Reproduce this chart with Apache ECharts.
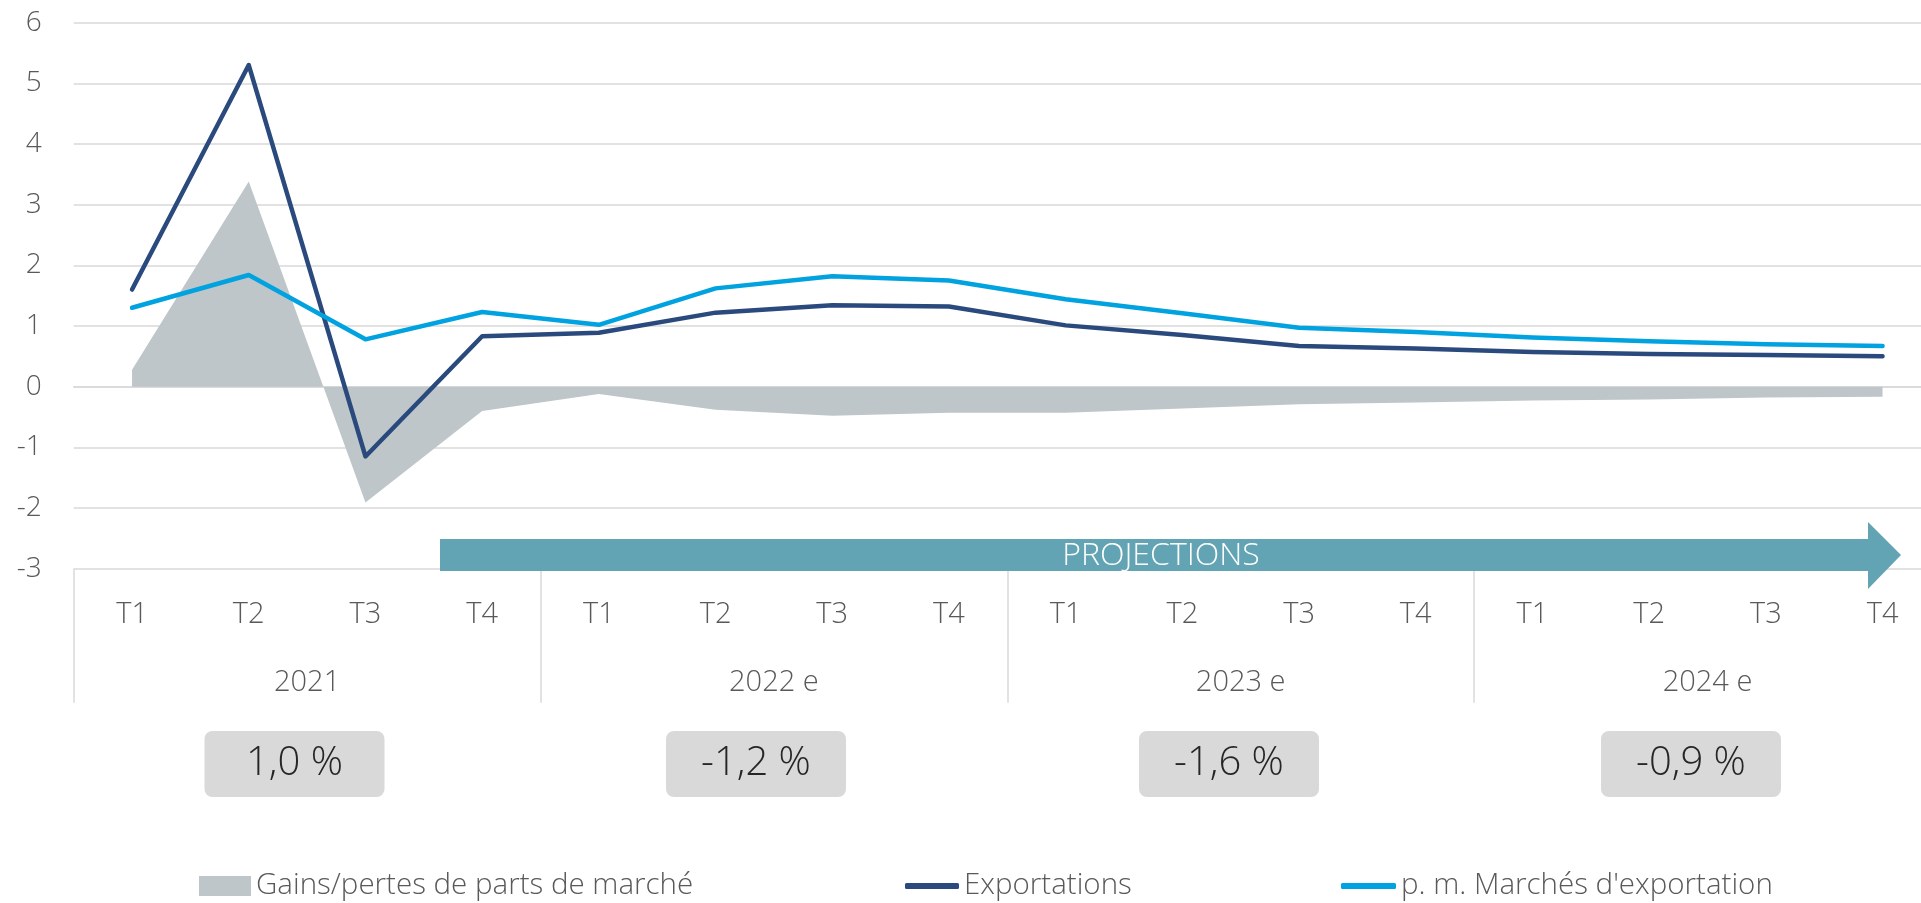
<!DOCTYPE html>
<html>
<head>
<meta charset="utf-8">
<script src="https://cdn.jsdelivr.net/npm/echarts@6/dist/echarts.min.js"></script>
<style>
html,body{margin:0;padding:0;background:#ffffff;}
#chart{width:1921px;height:903px;}
</style>
</head>
<body>
<div id="chart"></div>
<script>
// ---------- data ----------
const years = ['2021', '2022 e', '2023 e', '2024 e'];
const quarterLabels = ['T1', 'T2', 'T3', 'T4'];
const yTicks = { min: -3, max: 6, interval: 1 };

const seriesNames = ['Gains/pertes de parts de marché', 'Exportations', "p. m. Marchés d'exportation"];

const gainsPertes = [0.28, 3.38, -1.91, -0.40, -0.12, -0.38, -0.48, -0.43, -0.43, -0.36, -0.29, -0.26, -0.23, -0.21, -0.18, -0.165];
const exportations = [1.60, 5.30, -1.15, 0.83, 0.89, 1.22, 1.34, 1.32, 1.01, 0.85, 0.67, 0.63, 0.57, 0.54, 0.52, 0.50];
const marchesExport = [1.30, 1.84, 0.78, 1.23, 1.02, 1.62, 1.82, 1.75, 1.44, 1.21, 0.97, 0.90, 0.81, 0.75, 0.70, 0.67];

const annualLabels = ['1,0 %', '-1,2 %', '-1,6 %', '-0,9 %'];
const projectionLabel = 'PROJECTIONS';

// category keys built from the labels
const categories = [];
years.forEach(y => quarterLabels.forEach(q => categories.push(y + '|' + q)));

// ---------- style ----------
const FONT = "'Open Sans', 'Noto Sans', sans-serif";
const TXT = '#595959';
const GRIDC = '#d9d9d9';
const C_AREA = '#bec6c9';
const C_EXP = '#2a4a7e';
const C_MKT = '#00a2df';
const C_ARROW = '#62a4b4';

const gridLeft = 73.7, gridTop = 22.6, gridH = 546.1, catW = 116.7;
const gridW = catW * categories.length;

const chart = echarts.init(document.getElementById('chart'), null, { renderer: 'canvas' });

function legendFor(name, left, icon, w, h) {
  return {
    show: true,
    data: [{ name: name, icon: icon }],
    left: left, top: 870,
    padding: 0,
    itemWidth: w, itemHeight: h,
    itemGap: 0,
    selectedMode: false,
    textStyle: { fontFamily: FONT, fontWeight: 300, fontSize: 29.5, color: TXT, lineHeight: 32, padding: [0, 0, 0, 0] }
  };
}

const option = {
  backgroundColor: '#ffffff',
  animation: false,
  textStyle: { fontFamily: FONT },
  grid: { left: gridLeft, top: gridTop, width: gridW, height: gridH, containLabel: false, outerBoundsMode: 'none' },
  xAxis: [
    {
      type: 'category',
      data: categories,
      boundaryGap: true,
      axisLine: { show: true, lineStyle: { color: GRIDC, width: 1.5 } },
      axisTick: { show: false },
      splitLine: { show: false },
      axisLabel: {
        interval: 0, margin: 46, verticalAlign: 'middle',
        fontFamily: FONT, fontWeight: 300, fontSize: 29, color: TXT,
        formatter: v => v.split('|')[1]
      }
    },
    {
      type: 'category',
      data: years,
      position: 'bottom',
      boundaryGap: true,
      axisLine: { show: false },
      axisTick: { show: true, interval: 0, length: 134, lineStyle: { color: GRIDC, width: 1.5 } },
      splitLine: { show: false },
      axisLabel: {
        interval: 0, margin: 114, verticalAlign: 'middle',
        fontFamily: FONT, fontWeight: 300, fontSize: 29, color: TXT
      }
    }
  ],
  yAxis: {
    type: 'value',
    min: yTicks.min, max: yTicks.max, interval: yTicks.interval,
    axisLine: { show: false },
    axisTick: { show: false },
    splitLine: { show: true, lineStyle: { color: GRIDC, width: 1.5 } },
    axisLabel: { margin: 32, fontFamily: FONT, fontWeight: 300, fontSize: 28, color: TXT }
  },
  legend: [
    legendFor(seriesNames[0], 199, 'rect', 52, 20),
    legendFor(seriesNames[1], 905, 'roundRect', 54, 6),
    legendFor(seriesNames[2], 1341, 'roundRect', 55, 6)
  ],
  series: [
    {
      name: seriesNames[0],
      type: 'line',
      xAxisIndex: 0,
      data: gainsPertes,
      color: C_AREA,
      itemStyle: { color: C_AREA },
      showSymbol: false,
      symbol: 'none',
      lineStyle: { width: 0, color: C_AREA },
      areaStyle: { color: C_AREA, opacity: 1, origin: 0 },
      z: 1
    },
    {
      name: seriesNames[1],
      type: 'line',
      xAxisIndex: 0,
      data: exportations,
      color: C_EXP,
      itemStyle: { color: C_EXP },
      showSymbol: false,
      symbol: 'none',
      lineStyle: { width: 4.5, color: C_EXP, cap: 'round', join: 'round' },
      z: 3
    },
    {
      name: seriesNames[2],
      type: 'line',
      xAxisIndex: 0,
      data: marchesExport,
      color: C_MKT,
      itemStyle: { color: C_MKT },
      showSymbol: false,
      symbol: 'none',
      lineStyle: { width: 4.5, color: C_MKT, cap: 'round', join: 'round' },
      z: 4
    }
  ]
};

chart.setOption(option);

// ---------- annotations (projection arrow and annual boxes) ----------
const graphics = [];
const arrowY0 = 539, arrowY1 = 571, arrowX0 = 440, arrowHeadX = 1868, arrowTip = 1901;
const midY = (arrowY0 + arrowY1) / 2;
graphics.push({
  type: 'polygon', z: 100,
  shape: { points: [[arrowX0, arrowY0], [arrowHeadX, arrowY0], [arrowHeadX, 522], [arrowTip, midY], [arrowHeadX, 589], [arrowHeadX, arrowY1], [arrowX0, arrowY1]] },
  style: { fill: C_ARROW }
});
graphics.push({
  type: 'text', z: 101,
  x: 1161, y: midY + 1,
  style: { text: projectionLabel, fill: '#ffffff', font: "300 32px " + FONT, align: 'center', verticalAlign: 'middle' }
});
const boxCenters = [294.5, 756, 1229, 1691];
annualLabels.forEach((t, i) => {
  const cx = boxCenters[i];
  graphics.push({
    type: 'rect', z: 100,
    shape: { x: cx - 90, y: 731, width: 180, height: 66, r: 8 },
    style: { fill: '#d9d9d9' }
  });
  graphics.push({
    type: 'text', z: 101,
    x: cx, y: 764,
    style: { text: t, fill: '#262626', font: "300 40px " + FONT, align: 'center', verticalAlign: 'middle' }
  });
});
chart.setOption({ graphic: graphics });
</script>
</body>
</html>
